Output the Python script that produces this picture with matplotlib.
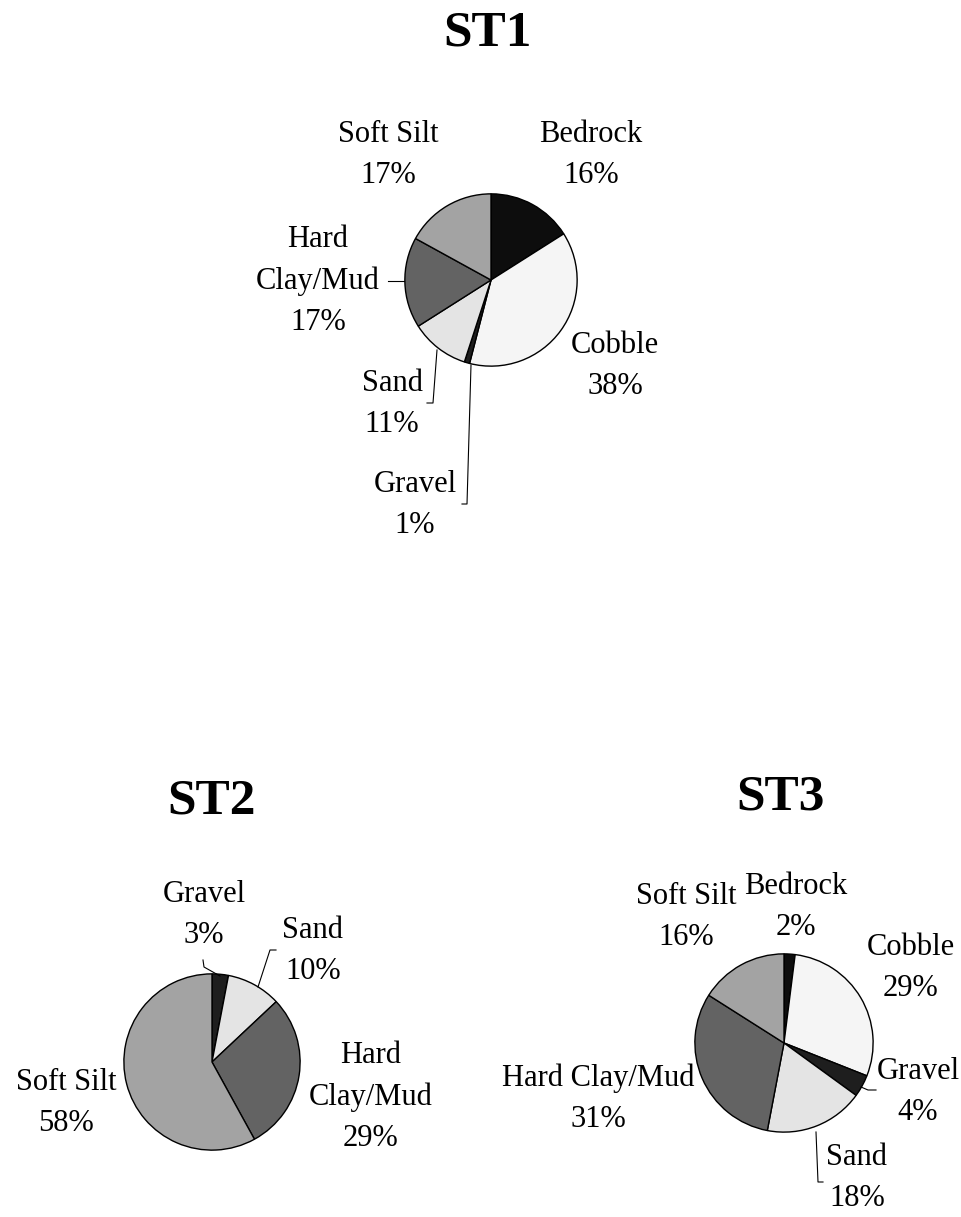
import matplotlib
matplotlib.use("Agg")
import matplotlib.pyplot as plt
from matplotlib.lines import Line2D

plt.rcParams['font.family'] = ['Liberation Serif', 'DejaVu Serif']

W, H = 962, 1217

# data
st1_cats = ["Bedrock", "Cobble", "Gravel", "Sand", "Hard Clay/Mud", "Soft Silt"]
st1_vals = [16, 38, 1, 11, 17, 17]
st2_cats = ["Gravel", "Sand", "Hard Clay/Mud", "Soft Silt"]
st2_vals = [3, 10, 29, 58]
st3_cats = ["Bedrock", "Cobble", "Gravel", "Sand", "Hard Clay/Mud", "Soft Silt"]
st3_vals = [2, 29, 4, 18, 31, 16]

fill = {
    "Bedrock": "#0d0d0d",
    "Cobble": "#f5f5f5",
    "Gravel": "#1e1e1e",
    "Sand": "#e4e4e4",
    "Hard Clay/Mud": "#636363",
    "Soft Silt": "#a3a3a3",
}

# layout (pixels): pie center, radius, title pos, label centers, leader lines
charts = [
    dict(title="ST1", cats=st1_cats, vals=st1_vals, c=(491, 280), r=87, t=(488, 34),
         lab={"Bedrock": (591, 155), "Cobble": (615, 366), "Gravel": (415, 505),
              "Sand": (392, 404), "Hard Clay/Mud": (318, 281), "Soft Silt": (388, 155)},
         split={"Hard Clay/Mud": "Hard\nClay/Mud"},
         lines=[[(388, 281), (404, 281)],
                [(437, 350), (433, 403), (427, 403)],
                [(471, 365), (467, 504), (462, 504)]]),
    dict(title="ST2", cats=st2_cats, vals=st2_vals, c=(212, 1062), r=89, t=(212, 802),
         lab={"Gravel": (204, 915), "Sand": (313, 951), "Hard Clay/Mud": (371, 1097),
              "Soft Silt": (66, 1103)},
         split={"Hard Clay/Mud": "Hard\nClay/Mud"},
         lines=[[(203, 960), (204, 967), (220, 976)],
                [(276, 950), (270, 950), (258, 987)]]),
    dict(title="ST3", cats=st3_cats, vals=st3_vals, c=(784, 1043), r=90, t=(781, 798),
         lab={"Bedrock": (796, 907), "Cobble": (911, 968), "Gravel": (918, 1092),
              "Sand": (857, 1178), "Hard Clay/Mud": (598, 1099), "Soft Silt": (686, 917)},
         split={},
         lines=[[(861, 1087), (868, 1090), (876, 1090)],
                [(816, 1132), (818, 1182), (823, 1182)]]),
]

fig = plt.figure(figsize=(W / 100, H / 100), dpi=100)

for ch in charts:
    cx, cy = ch["c"]
    r = ch["r"]
    ax = fig.add_axes([(cx - r) / W, 1 - (cy + r) / H, 2 * r / W, 2 * r / H])
    ax.pie(ch["vals"], colors=[fill[c] for c in ch["cats"]], startangle=90,
           counterclock=False, radius=1,
           wedgeprops=dict(edgecolor="black", linewidth=1.0))
    ax.set_xlim(-1.01, 1.01)
    ax.set_ylim(-1.01, 1.01)
    ax.axis("off")

    fig.text(ch["t"][0] / W, 1 - ch["t"][1] / H, ch["title"], fontsize=37,
             fontweight="bold", ha="center", va="center")
    for cat, val in zip(ch["cats"], ch["vals"]):
        x, y = ch["lab"][cat]
        name = ch["split"].get(cat, cat)
        fig.text(x / W, 1 - y / H, f"{name}\n{val}%", fontsize=22, ha="center",
                 va="center", multialignment="center", linespacing=1.55)
    for pts in ch["lines"]:
        xs = [p[0] / W for p in pts]
        ys = [1 - p[1] / H for p in pts]
        fig.add_artist(Line2D(xs, ys, color="black", linewidth=0.8,
                              transform=fig.transFigure))

fig.savefig("out.png", dpi=100, facecolor="white")
